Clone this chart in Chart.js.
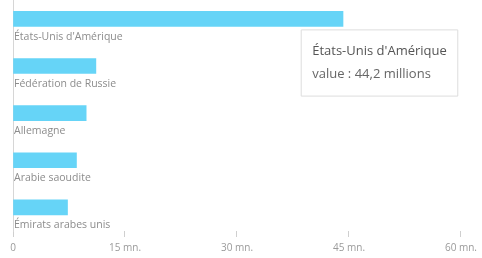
<!DOCTYPE html>
<html>
<head>
<meta charset="utf-8">
<script src="https://cdn.jsdelivr.net/npm/chart.js@4/dist/chart.umd.min.js"></script>
<style>
  html, body { margin: 0; padding: 0; background: #fff; }
  #wrap { position: relative; width: 482px; height: 258px; overflow: hidden; }
  #wrap canvas { position: absolute; left: 0; top: -12px; }
</style>
</head>
<body>
<div id="wrap"><canvas id="c" width="482" height="278"></canvas></div>
<script>
const categories = ["États-Unis d'Amérique", "Fédération de Russie", "Allemagne", "Arabie saoudite", "Émirats arabes unis"];
const values = [44.2, 11.1, 9.8, 8.5, 7.3];
const tickValues = [0, 15, 30, 45, 60];
const tickUnit = "mn.";

Chart.Tooltip.positioners.fixedBox = function () {
  return { x: 379.5, y: 75 };
};

const chart = new Chart(document.getElementById('c'), {
  type: 'bar',
  data: {
    labels: categories,
    datasets: [{
      data: values,
      backgroundColor: '#66d4f7',
      borderWidth: 0,
      barThickness: 15
    }]
  },
  options: {
    indexAxis: 'y',
    responsive: false,
    animation: false,
    events: [],
    layout: { padding: { left: 11, right: 18, top: 0, bottom: 7 } },
    scales: {
      x: {
        min: 0, max: 60,
        afterBuildTicks: (s) => { s.ticks = tickValues.map(v => ({ value: v })); },
        grid: { display: true, drawOnChartArea: false, drawTicks: true, tickLength: 6, color: '#cfcfcf' },
        border: { display: false },
        ticks: {
          padding: 5,
          color: '#9a9a9a',
          font: { family: 'Open Sans', size: 10 },
          maxRotation: 0,
          callback: (v) => v === 0 ? '0' : v + ' ' + tickUnit
        }
      },
      y: {
        grid: { display: false, drawTicks: false },
        border: { display: true, color: '#d6d6d6', width: 1 },
        ticks: {
          mirror: true,
          padding: 1,
          labelOffset: 18,
          color: '#8c8c8c',
          font: { family: 'Open Sans', size: 10.5 }
        }
      }
    },
    plugins: {
      legend: { display: false },
      tooltip: {
        enabled: true,
        position: 'fixedBox',
        xAlign: 'center',
        yAlign: 'center',
        caretSize: 0,
        caretPadding: 0,
        backgroundColor: '#ffffff',
        borderColor: '#dddddd',
        borderWidth: 1,
        cornerRadius: 0,
        displayColors: false,
        padding: { x: 11, y: 14 },
        titleColor: '#555555',
        bodyColor: '#666666',
        titleFont: { family: 'Open Sans', size: 13, weight: 'normal' },
        bodyFont: { family: 'Open Sans', size: 13 },
        titleMarginBottom: 7,
        callbacks: {
          title: (items) => items[0].label,
          label: (item) => 'value : ' + String(item.raw).replace('.', ',') + ' millions'
        }
      }
    }
  }
});

chart.tooltip.setActiveElements([{ datasetIndex: 0, index: 0 }], { x: 379.5, y: 75 });
chart.update();
</script>
</body>
</html>
